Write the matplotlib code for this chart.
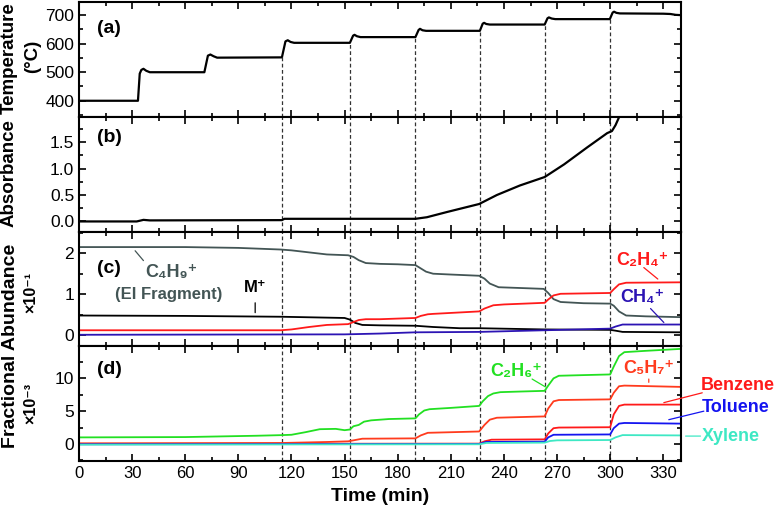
"""
Four stacked panels sharing a time axis: furnace temperature, absorbance,
and fractional abundances of the main ions and aromatic products.
"""

import matplotlib
matplotlib.use("Agg")
import matplotlib.pyplot as plt
import numpy as np
from matplotlib.ticker import FormatStrFormatter, MultipleLocator

plt.rcParams["font.family"] = ["Liberation Sans", "DejaVu Sans"]
plt.rcParams["axes.unicode_minus"] = False

W, H, DPI = 776, 516, 100

# ---- data (time in min) ----
step_times = [114.6, 153, 190, 226.4, 263, 299.8]

temp_t = [0, 33.3, 34.3, 35.2, 36.4, 38, 40, 70.8, 72.8, 74.2, 76, 78,
          114.6, 116.6, 117.9, 119.5, 121.5, 153, 154.8, 155.6, 157, 159,
          190, 191.8, 192.6, 194, 196, 226.4, 228, 228.8, 230, 232,
          263, 264.6, 265.4, 267, 269, 299.8, 301.4, 302.2, 303.5, 305.5,
          330, 334, 337, 340]
temp_v = [400, 400, 495, 508, 512, 505, 500, 500, 558, 562, 556, 551,
          552, 608, 612, 606, 603, 603, 628, 631, 626, 623,
          623, 648, 652, 647, 645, 645, 670, 673, 669, 667,
          667, 689, 692, 688, 686, 686, 709, 712, 708, 706,
          705, 704, 701, 700]

abs_t = [0, 32.6, 36.4, 40, 114.6, 116, 150, 170, 181, 190, 196.5, 208,
         226, 236, 249, 263, 274, 287, 298.3, 301, 303, 305.4, 307]
abs_v = [0.0, 0.0, 0.03, 0.02, 0.025, 0.05, 0.05, 0.05, 0.05, 0.05, 0.08, 0.18,
         0.33, 0.50, 0.68, 0.84, 1.08, 1.40, 1.67, 1.71, 1.82, 2.0, 2.2]

# panel (c), x10^-1
c4h9_t = [0, 60, 90, 114, 120, 130, 140, 152, 155, 158, 162, 170, 180, 190,
          193, 196, 200, 210, 226, 229, 232, 237, 250, 262.5, 265, 268, 272,
          285, 300, 302, 305, 309, 320, 340]
c4h9_v = [2.15, 2.15, 2.13, 2.09, 2.07, 2.02, 1.97, 1.95, 1.91, 1.83, 1.76,
          1.74, 1.73, 1.71, 1.63, 1.55, 1.50, 1.48, 1.45, 1.38, 1.26, 1.17,
          1.15, 1.13, 1.03, 0.88, 0.81, 0.78, 0.77, 0.72, 0.58, 0.48, 0.46, 0.44]
mplus_t = [0, 60, 114, 150, 153, 156, 160, 170, 190, 200, 215, 226, 263,
           300, 303, 307, 340]
mplus_v = [0.48, 0.47, 0.45, 0.42, 0.38, 0.30, 0.25, 0.24, 0.23, 0.20, 0.17,
           0.17, 0.14, 0.13, 0.11, 0.08, 0.07]
c2h4_t = [0, 114, 120, 130, 140, 152, 155, 158, 162, 170, 190, 193, 197, 200,
          226, 229, 234, 240, 263, 265, 268, 272, 300, 302, 305, 309, 340]
c2h4_v = [0.12, 0.12, 0.14, 0.20, 0.25, 0.27, 0.32, 0.37, 0.39, 0.39, 0.42,
          0.47, 0.51, 0.52, 0.58, 0.65, 0.73, 0.75, 0.79, 0.87, 0.97, 1.01,
          1.03, 1.12, 1.24, 1.28, 1.29]
ch4_t = [0, 150, 170, 190, 226, 263, 300, 303, 307, 340]
ch4_v = [0.01, 0.02, 0.04, 0.07, 0.08, 0.12, 0.16, 0.21, 0.26, 0.26]

# panel (d), x10^-3
c2h6_t = [0, 60, 100, 115, 120, 128, 136, 145, 150, 153, 155, 158, 161, 165,
          175, 190, 192, 195, 198, 210, 226, 228, 231, 234, 238, 250, 263,
          265, 268, 271, 285, 300, 302, 305, 308, 320, 340]
c2h6_v = [1.0, 1.05, 1.25, 1.35, 1.4, 1.8, 2.25, 2.3, 2.1, 2.2, 2.7, 2.9, 3.4,
          3.6, 3.8, 3.9, 4.5, 5.1, 5.3, 5.5, 5.8, 6.5, 7.3, 7.7, 7.9, 8.0, 8.1,
          8.9, 10.0, 10.4, 10.5, 10.6, 11.8, 13.4, 14.0, 14.2, 14.5]
c5h7_t = [0, 115, 140, 152, 155, 160, 190, 193, 197, 226, 229, 232, 236, 263,
          265, 268, 271, 300, 302, 305, 308, 340]
c5h7_v = [0.1, 0.15, 0.3, 0.4, 0.55, 0.8, 0.85, 1.3, 1.7, 1.9, 2.9, 3.7, 4.0,
          4.2, 5.4, 6.5, 6.7, 6.8, 7.8, 8.8, 8.9, 8.7]
benz_t = [0, 226, 229, 233, 263, 265, 268, 271, 300, 302, 305, 308, 340]
benz_v = [0.0, 0.05, 0.4, 0.65, 0.7, 1.6, 2.4, 2.5, 2.55, 4.5, 5.8, 6.0, 6.0]
tol_t = [0, 226, 230, 263, 265, 268, 300, 302, 305, 308, 340]
tol_v = [-0.05, 0.0, 0.3, 0.35, 1.0, 1.4, 1.45, 2.4, 3.1, 3.2, 3.1]
xyl_t = [0, 226, 230, 263, 266, 270, 300, 303, 307, 340]
xyl_v = [-0.1, -0.05, 0.15, 0.2, 0.45, 0.55, 0.6, 1.0, 1.35, 1.3]

GRAY = "#435555"
RED = "#ff1a1a"
INDIGO = "#2c14b4"
GREEN = "#22e022"
ORANGE = "#ff3b1e"
BLUE = "#1414f0"
CYAN = "#3ee8c4"


def style_axis(ax, major, minor, ylim):
    ax.set_ylim(*ylim)
    ax.yaxis.set_major_locator(MultipleLocator(major))
    ax.yaxis.set_minor_locator(MultipleLocator(minor))
    ax.tick_params(which="both", direction="in", top=True, right=True,
                   width=1.2)
    ax.tick_params(axis="y", labelsize=12.5)
    ax.tick_params(axis="x", labelsize=12)
    ax.tick_params(which="major", length=5)
    ax.tick_params(which="minor", length=3)
    for sp in ax.spines.values():
        sp.set_linewidth(1.5)


def leader(ax, start, end, color):
    ax.annotate("", xy=end, xytext=start, annotation_clip=False,
                arrowprops=dict(arrowstyle="-", color=color, lw=0.9,
                                shrinkA=0, shrinkB=0))


def main():
    fig, axes = plt.subplots(4, 1, sharex=True, figsize=(W / DPI, H / DPI),
                             dpi=DPI, gridspec_kw=dict(hspace=0))
    fig.subplots_adjust(left=79 / W, right=681 / W, top=1 - 2 / H,
                        bottom=1 - 461 / H)
    ax_a, ax_b, ax_c, ax_d = axes

    # (a) temperature; dashed markers rise only up to the curve
    ax_a.plot(temp_t, temp_v, color="black", lw=1.6)
    style_axis(ax_a, 100, 50, (344, 746))
    ax_a.vlines(step_times, 344, np.interp(step_times, temp_t, temp_v),
                colors="#333333", linestyles=(0, (3, 2)), lw=0.9)

    # (b) absorbance
    ax_b.plot(abs_t, abs_v, color="black", lw=1.6)
    style_axis(ax_b, 0.5, 0.25, (-0.19, 1.98))
    ax_b.yaxis.set_major_formatter(FormatStrFormatter("%.1f"))

    # (c) major ions
    ax_c.plot(c4h9_t, c4h9_v, color=GRAY, lw=1.3)
    ax_c.plot(mplus_t, mplus_v, color="black", lw=1.3)
    ax_c.plot(c2h4_t, c2h4_v, color=RED, lw=1.3)
    ax_c.plot(ch4_t, ch4_v, color=INDIGO, lw=1.3)
    style_axis(ax_c, 1, 0.5, (-0.27, 2.53))

    # (d) minor products
    ax_d.plot(c2h6_t, c2h6_v, color=GREEN, lw=1.3)
    ax_d.plot(c5h7_t, c5h7_v, color=ORANGE, lw=1.3)
    ax_d.plot(benz_t, benz_v, color=RED, lw=1.3)
    ax_d.plot(tol_t, tol_v, color=BLUE, lw=1.3)
    ax_d.plot(xyl_t, xyl_v, color=CYAN, lw=1.3)
    style_axis(ax_d, 5, 2.5, (-2.6, 14.9))

    for ax in (ax_b, ax_c, ax_d):
        for x in step_times:
            ax.axvline(x, color="#333333", ls=(0, (3, 2)), lw=0.9, zorder=0)

    ax_d.set_xlim(0, 340)
    ax_d.xaxis.set_major_locator(MultipleLocator(30))
    ax_d.xaxis.set_minor_locator(MultipleLocator(15))
    ax_d.set_xlabel("Time (min)", fontsize=14, fontweight="bold", labelpad=5)

    # panel tags
    for ax, y, tag in ((ax_a, 0.77, "(a)"), (ax_b, 0.815, "(b)"),
                       (ax_c, 0.68, "(c)"), (ax_d, 0.80, "(d)")):
        ax.text(0.03, y, tag, transform=ax.transAxes, fontsize=14,
                fontweight="bold", va="center", ha="left")

    # y labels placed in figure pixels
    def ftext(x, y, s, size):
        fig.text(x / W, 1 - y / H, s, fontsize=size, fontweight="bold",
                 rotation=90, ha="center", va="center")

    ftext(9, 58, "Temperature", 13.5)
    ftext(33, 56, "(°C)", 13.5)
    ftext(9, 173, "Absorbance", 13.5)
    ftext(11, 346, "Fractional Abundance", 14)
    ftext(31, 292, "×10⁻¹", 11.5)
    ftext(31, 403, "×10⁻³", 11.5)

    # labels in (c)
    bold = dict(fontweight="bold", ha="center", va="center")
    ax_c.text(52, 1.53, "C₄H₉⁺", color=GRAY, fontsize=13, **bold)
    ax_c.text(50.5, 1.00, "(EI Fragment)", color=GRAY, fontsize=12, **bold)
    leader(ax_c, (31.7, 2.06), (36.4, 1.82), GRAY)
    ax_c.text(99.5, 1.17, "M⁺", color="black", fontsize=12, **bold)
    leader(ax_c, (99.5, 0.79), (99.5, 0.55), "black")
    ax_c.text(318, 1.82, "C₂H₄⁺", color=RED, fontsize=13, **bold)
    leader(ax_c, (319, 1.65), (326.9, 1.37), RED)
    ax_c.text(318, 0.93, "CH₄⁺", color=INDIGO, fontsize=13, **bold)
    leader(ax_c, (322.8, 0.65), (330.3, 0.31), INDIGO)

    # labels in (d)
    ax_d.text(247, 11.0, "C₂H₆⁺", color=GREEN, fontsize=13, **bold)
    leader(ax_d, (255.9, 9.9), (263.4, 8.7), GREEN)
    ax_d.text(322, 11.5, "C₅H₇⁺", color=ORANGE, fontsize=13, **bold)
    leader(ax_d, (321.8, 9.9), (321.8, 9.4), ORANGE)
    ax_d.text(372, 8.9, "Benzene", color=RED, fontsize=13, **bold)
    leader(ax_d, (352, 7.8), (330.3, 6.3), RED)
    ax_d.text(371, 5.5, "Toluene", color=BLUE, fontsize=13, **bold)
    leader(ax_d, (352.9, 5.0), (333.1, 3.7), BLUE)
    ax_d.text(368, 1.2, "Xylene", color=CYAN, fontsize=13, **bold)
    leader(ax_d, (342.6, 1.2), (351, 1.2), CYAN)

    fig.savefig("out.png", dpi=DPI)
    plt.close(fig)


if __name__ == "__main__":
    main()
